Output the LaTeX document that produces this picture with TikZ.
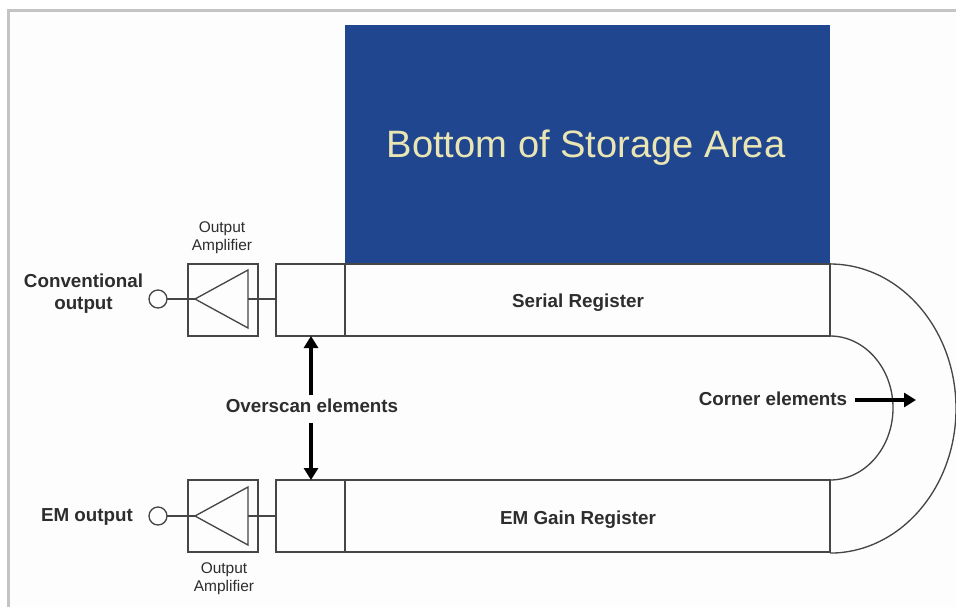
\documentclass[tikz,border=0pt]{standalone}
\usepackage{fontspec}
\setmainfont{Liberation Sans}
\usetikzlibrary{arrows.meta}
\definecolor{storeblue}{RGB}{33,70,144}
\definecolor{framegrey}{RGB}{196,196,196}
\definecolor{inkgrey}{RGB}{70,70,70}
\definecolor{labelink}{RGB}{45,45,45}
\definecolor{paper}{RGB}{253,253,253}
\tikzset{
  x=0.75pt,y=-0.75pt,
  wire/.style={draw=inkgrey,line width=1pt},
  cellbox/.style={draw=inkgrey,line width=1pt,fill=paper,inner sep=0pt,outer sep=0pt,minimum height=54pt,anchor=north west},
  ampbox/.style={draw=inkgrey,line width=1.2pt,fill=paper,inner sep=0pt,outer sep=0pt,minimum width=52.5pt,minimum height=54pt,anchor=north west},
  port/.style={circle,draw=inkgrey,line width=1pt,fill=paper,minimum size=13.5pt,inner sep=0pt,outer sep=0pt},
  boldlabel/.style={font=\fontsize{14.1}{16.5}\selectfont\bfseries,text=labelink,align=center,inner sep=0pt},
  smalllabel/.style={font=\fontsize{11.6}{13.5}\selectfont,text=labelink,align=center,inner sep=0pt},
  bigarrow/.style={draw=black,line width=2.3pt,-{Triangle[length=9pt,width=10.5pt]},shorten >=0pt},
}
\begin{document}
\begin{tikzpicture}
\useasboundingbox (0,0) rectangle (956,607);
\fill[white] (0,0) rectangle (956,607);
\fill[paper] (10,12) rectangle (956,607);
\fill[framegrey] (7,9) rectangle (956,12);
\fill[framegrey] (7,9) rectangle (10,607);
% storage
\node[fill=storeblue,draw=none,inner sep=0pt,outer sep=0pt,minimum width=363.75pt,minimum height=179.25pt,anchor=north west] (store) at (345,25) {};
\node[text=yellow!25!white!90!black,font=\fontsize{28.6}{30}\selectfont,inner sep=0pt] (storetext) at (586,147.5) {Bottom of Storage Area};
% corner arcs
\coordinate (outerT) at (830,264);
\coordinate (outerB) at (830,553);
\coordinate (innerT) at (830,336);
\coordinate (innerB) at (830,480);
\draw[wire] (outerT) arc[start angle=90,end angle=-90,x radius=94.5pt,y radius=108.4pt];
\draw[wire] (innerT) arc[start angle=90,end angle=-90,x radius=47.25pt,y radius=54pt];
% registers
\node[cellbox,minimum width=51.75pt] (ovT) at (276,264) {};
\node[cellbox,minimum width=363.75pt] (serial) at (345,264) {};
\node[cellbox,minimum width=51.75pt] (ovB) at (276,480) {};
\node[cellbox,minimum width=363.75pt] (gain) at (345,480) {};
\node[boldlabel] at (578,303) {Serial Register};
\node[boldlabel] at (578,520) {EM Gain Register};
% amplifiers
\node[ampbox] (ampT) at (188,264) {};
\node[ampbox] (ampB) at (188,480) {};
\coordinate (tipT) at (195,299);
\coordinate (tipB) at (195,516);
\coordinate (baseT) at (248,299);
\coordinate (baseB) at (248,516);
\draw[wire,line join=miter] (tipT) -- (248,270) -- (248,328) -- cycle;
\draw[wire,line join=miter] (tipB) -- (248,487) -- (248,545) -- cycle;
\node[port] (portT) at (158,299) {};
\node[port] (portB) at (158,516) {};
\draw[wire] (portT) -- (tipT);
\draw[wire] (portB) -- (tipB);
\draw[wire] (baseT) -- (ovT.west |- baseT);
\draw[wire] (baseB) -- (ovB.west |- baseB);
% labels
\node[smalllabel] at (222,238) {Output\\Amplifier};
\node[smalllabel] at (224,579) {Output\\Amplifier};
\node[boldlabel] at (83.5,294) {Conventional\\output};
\node[boldlabel] at (87,517) {EM output};
\node[boldlabel] (over) at (312,406) {Overscan elements};
\node[boldlabel] (corner) at (773,399) {Corner elements};
% arrows
\coordinate (ovTtip) at (311,336);
\coordinate (ovBtip) at (311,480);
\coordinate (ovUp) at (311,395);
\coordinate (ovDn) at (311,423);
\coordinate (cornerTail) at (855,400);
\coordinate (cornerTip) at (916,400);
\draw[bigarrow] (ovUp) -- (ovTtip);
\draw[bigarrow] (ovDn) -- (ovBtip);
\draw[bigarrow] (cornerTail) -- (cornerTip);
\end{tikzpicture}
\end{document}
